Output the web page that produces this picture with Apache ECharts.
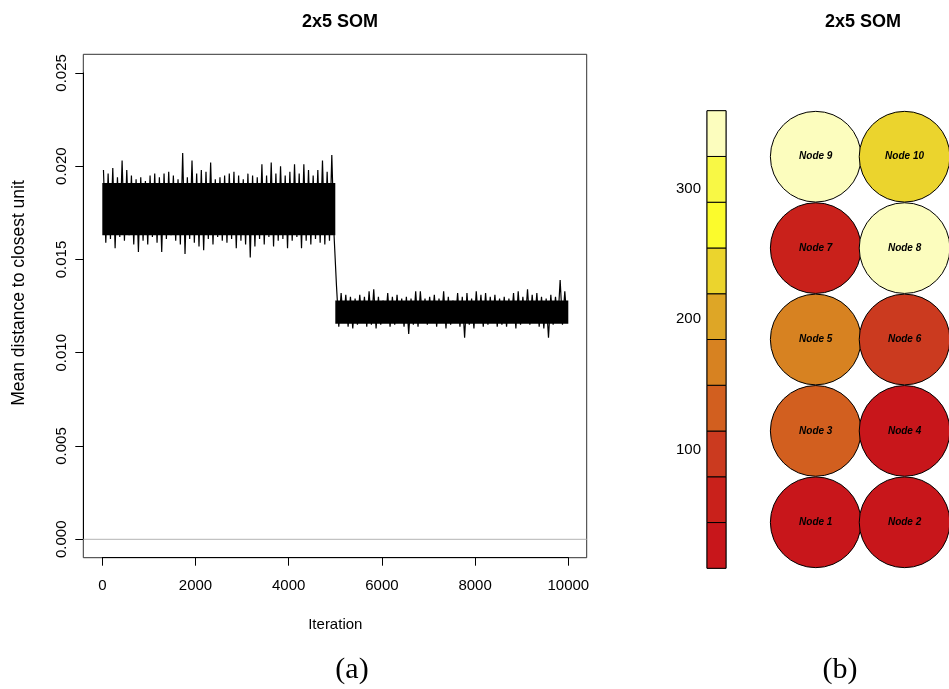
<!DOCTYPE html>
<html>
<head>
<meta charset="utf-8">
<title>2x5 SOM</title>
<script src="https://cdn.jsdelivr.net/npm/echarts@6.0.0/dist/echarts.min.js"></script>
<style>
  html, body { margin: 0; padding: 0; background: #fff; }
  #main { width: 949px; height: 689px; }
</style>
</head>
<body>
<div id="main"></div>
<script>
// (a) training progress: upper / lower edge of the trace, one pair per 100 iterations
var binSize = 100;
var traceHigh = [
  0.0198, 0.0196, 0.0199, 0.0194, 0.0203, 0.0198, 0.0195, 0.0193, 0.0194, 0.0192,
  0.0195, 0.0196, 0.0194, 0.0196, 0.0197, 0.0195, 0.0193, 0.0207, 0.0194, 0.0203,
  0.0196, 0.0198, 0.0197, 0.0202, 0.0193, 0.0194, 0.0195, 0.0196, 0.0197, 0.0195,
  0.0193, 0.0196, 0.0195, 0.0194, 0.0201, 0.0195, 0.0202, 0.0196, 0.0200, 0.0195,
  0.0197, 0.0201, 0.0196, 0.0201, 0.0198, 0.0195, 0.0198, 0.0203, 0.0197, 0.0206,
  0.0136, 0.0132, 0.0131, 0.0130, 0.0129, 0.0131, 0.0130, 0.0133, 0.0134, 0.0130,
  0.0128, 0.0132, 0.0130, 0.0131, 0.0129, 0.0130, 0.0129, 0.0133, 0.0133, 0.0129,
  0.0130, 0.0131, 0.0129, 0.0133, 0.0130, 0.0128, 0.0132, 0.0130, 0.0132, 0.0129,
  0.0133, 0.0131, 0.0132, 0.0130, 0.0131, 0.0129, 0.0130, 0.0129, 0.0132, 0.0133,
  0.0130, 0.0134, 0.0131, 0.0132, 0.0130, 0.0129, 0.0131, 0.0130, 0.0139, 0.0133
];
var traceLow = [
  0.0159, 0.0161, 0.0156, 0.0162, 0.0160, 0.0163, 0.0158, 0.0154, 0.0160, 0.0158,
  0.0162, 0.0159, 0.0154, 0.0161, 0.0163, 0.0160, 0.0158, 0.0153, 0.0161, 0.0159,
  0.0157, 0.0155, 0.0161, 0.0158, 0.0162, 0.0160, 0.0159, 0.0161, 0.0156, 0.0160,
  0.0158, 0.0151, 0.0157, 0.0161, 0.0158, 0.0162, 0.0157, 0.0160, 0.0161, 0.0156,
  0.0160, 0.0162, 0.0156, 0.0160, 0.0158, 0.0161, 0.0159, 0.0158, 0.0160, 0.0162,
  0.0114, 0.0116, 0.0114, 0.0113, 0.0115, 0.0116, 0.0114, 0.0115, 0.0113, 0.0115,
  0.0116, 0.0114, 0.0115, 0.0116, 0.0114, 0.0110, 0.0115, 0.0114, 0.0116, 0.0115,
  0.0116, 0.0114, 0.0116, 0.0113, 0.0115, 0.0116, 0.0114, 0.0108, 0.0115, 0.0113,
  0.0116, 0.0114, 0.0115, 0.0116, 0.0114, 0.0115, 0.0114, 0.0116, 0.0113, 0.0115,
  0.0116, 0.0115, 0.0116, 0.0114, 0.0113, 0.0108, 0.0115, 0.0116, 0.0115, 0.0116
];
// dense (solid black) part of the trace, before and after the jump
var coreStart = [0, 5000];
var coreEnd = [5000, 10000];
var coreLow = [0.0163, 0.01155];
var coreHigh = [0.0191, 0.0128];
var xTicks = [0, 2000, 4000, 6000, 8000, 10000];
var yTicks = [0, 0.005, 0.010, 0.015, 0.020, 0.025];
// R pads the plot box 4% past the axis range
var xPlotRange = [-400, 10400];
var yPlotRange = [-0.000986, 0.026];

// (b) node values of the 2x5 map and the heat palette (low -> high)
var nodeNames = ['Node 1', 'Node 2', 'Node 3', 'Node 4', 'Node 5',
                 'Node 6', 'Node 7', 'Node 8', 'Node 9', 'Node 10'];
var nodeValues = [9, 25, 125, 35, 160, 90, 55, 345, 360, 240];
var heatColors = ['#c8161b', '#c9211b', '#cb3a1f', '#d25f1f', '#d78221',
                  '#dea626', '#ebd42d', '#fbfb2c', '#f8f845', '#fcfdbe'];
var colorbarTicks = [100, 200, 300];

var FONT = '"Liberation Sans", Helvetica, Arial, sans-serif';
var SERIF = '"Liberation Serif", "Times New Roman", serif';

var traceData = [];
for (var i = 0; i < traceHigh.length; i++) {
  traceData.push([i * binSize + binSize * 0.25, traceHigh[i]]);
  traceData.push([i * binSize + binSize * 0.75, traceLow[i]]);
}
var coreData = coreStart.map(function (s, k) {
  return [s, coreEnd[k], coreLow[k], coreHigh[k]];
});

var zMin = Math.min.apply(null, nodeValues);
var zMax = Math.max.apply(null, nodeValues);
var zStep = (zMax - zMin) / heatColors.length;
var barData = heatColors.map(function (c, k) {
  return [0.5, zMin + k * zStep, zMin + (k + 1) * zStep, k];
});
var nodeData = nodeValues.map(function (v, k) {
  var c = Math.min(heatColors.length - 1, Math.floor((v - zMin) / zStep));
  return {
    name: nodeNames[k],
    value: [k % 2 + 1, Math.floor(k / 2) + 1, v],
    itemStyle: { color: heatColors[c] }
  };
});

var myChart = echarts.init(document.getElementById('main'));
var option = {
  animation: false,
  backgroundColor: '#fff',
  textStyle: { fontFamily: FONT },
  title: [
    { text: '2x5 SOM', left: 335, top: 8, textAlign: 'center',
      textStyle: { fontFamily: FONT, fontSize: 18, fontWeight: 'bold', color: '#000' } },
    { text: '2x5 SOM', left: 858, top: 8, textAlign: 'center',
      textStyle: { fontFamily: FONT, fontSize: 18, fontWeight: 'bold', color: '#000' } },
    { text: '(a)', left: 347, top: 650, textAlign: 'center',
      textStyle: { fontFamily: SERIF, fontSize: 30, fontWeight: 'normal', color: '#000' } },
    { text: '(b)', left: 835, top: 650, textAlign: 'center',
      textStyle: { fontFamily: SERIF, fontSize: 30, fontWeight: 'normal', color: '#000' } }
  ],
  graphic: [
    { type: 'text', x: 19, y: 293, rotation: Math.PI / 2,
      style: { text: 'Mean distance to closest unit', font: '17.5px ' + FONT,
        fill: '#000', textAlign: 'center', textVerticalAlign: 'middle' } }
  ],
  grid: [
    // data area of (a)
    { left: 102.3, top: 72.9, width: 466, height: 466.4 },
    // box around (a)
    { left: 83.3, top: 54.3, width: 503.4, height: 503.4, show: true,
      borderColor: '#333', borderWidth: 1, backgroundColor: 'transparent' },
    // colour bar
    { left: 707, top: 110.7, width: 19, height: 457.6, show: true,
      borderColor: '#333', borderWidth: 1, backgroundColor: 'transparent' },
    // node circles
    { left: 771.3, top: 111, width: 182.8, height: 457 }
  ],
  xAxis: [
    { gridIndex: 0, type: 'value', min: 0, max: 10000, interval: 2000, offset: 18.4,
      name: 'Iteration', nameLocation: 'middle', nameGap: 60,
      nameTextStyle: { fontSize: 15, color: '#000', fontFamily: FONT },
      axisLine: { show: true, onZero: false, lineStyle: { color: '#000', width: 1 } },
      axisTick: { show: true, inside: false, length: 8, lineStyle: { color: '#000' }, customValues: xTicks },
      axisLabel: { fontSize: 15, color: '#000', margin: 21, customValues: xTicks,
        formatter: function (v) { return String(v); } },
      splitLine: { show: false } },
    { gridIndex: 1, type: 'value', show: false, min: xPlotRange[0], max: xPlotRange[1] },
    { gridIndex: 2, type: 'value', show: false, min: 0, max: 1 },
    { gridIndex: 3, type: 'value', show: false, min: 0.5, max: 2.5 }
  ],
  yAxis: [
    { gridIndex: 0, type: 'value', min: 0, max: 0.025, interval: 0.005, offset: 19,
      axisLine: { show: true, onZero: false, lineStyle: { color: '#000', width: 1 } },
      axisTick: { show: true, inside: false, length: 8, lineStyle: { color: '#000' }, customValues: yTicks },
      axisLabel: { fontSize: 15, color: '#000', rotate: 90, margin: 14, customValues: yTicks,
        formatter: function (v) { return v.toFixed(3); } },
      splitLine: { show: false } },
    { gridIndex: 1, type: 'value', show: false, min: yPlotRange[0], max: yPlotRange[1] },
    { gridIndex: 2, type: 'value', min: zMin, max: zMax,
      axisLine: { show: false }, axisTick: { show: false }, splitLine: { show: false },
      axisLabel: { fontSize: 15, color: '#000', margin: 6, customValues: colorbarTicks } },
    { gridIndex: 3, type: 'value', show: false, min: 0.5, max: 5.5 }
  ],
  series: [
    {
      name: 'zero', type: 'line', xAxisIndex: 1, yAxisIndex: 1,
      symbol: 'none', silent: true,
      lineStyle: { color: '#b3b3b3', width: 1 },
      data: [[xPlotRange[0], 0], [xPlotRange[1], 0]]
    },
    {
      name: 'core', type: 'custom', xAxisIndex: 0, yAxisIndex: 0,
      encode: { x: [0, 1], y: [2, 3] },
      renderItem: function (params, api) {
        var p1 = api.coord([api.value(0), api.value(3)]);
        var p2 = api.coord([api.value(1), api.value(2)]);
        return { type: 'rect',
          shape: { x: p1[0], y: p1[1], width: p2[0] - p1[0], height: p2[1] - p1[1] },
          style: { fill: '#000' } };
      },
      data: coreData
    },
    {
      name: 'trace', type: 'line', xAxisIndex: 0, yAxisIndex: 0,
      symbol: 'none', clip: false,
      lineStyle: { color: '#000', width: 1.2 },
      data: traceData
    },
    {
      name: 'colorbar', type: 'custom', xAxisIndex: 2, yAxisIndex: 2,
      encode: { x: 0, y: [1, 2] },
      renderItem: function (params, api) {
        var p1 = api.coord([0, api.value(2)]);
        var p2 = api.coord([1, api.value(1)]);
        return { type: 'rect',
          shape: { x: p1[0], y: p1[1], width: p2[0] - p1[0], height: p2[1] - p1[1] },
          style: { fill: heatColors[api.value(3)], stroke: '#000', lineWidth: 1 } };
      },
      data: barData
    },
    {
      name: 'nodes', type: 'scatter', xAxisIndex: 3, yAxisIndex: 3,
      symbol: 'circle', symbolSize: 90.7, clip: false,
      itemStyle: { borderColor: '#000', borderWidth: 1, opacity: 1 },
      label: { show: true, position: 'inside', formatter: '{b}',
        fontFamily: FONT, fontSize: 10, fontWeight: 'bold', fontStyle: 'italic', color: '#000' },
      emphasis: { disabled: true },
      data: nodeData
    }
  ]
};
myChart.setOption(option);
</script>
</body>
</html>
